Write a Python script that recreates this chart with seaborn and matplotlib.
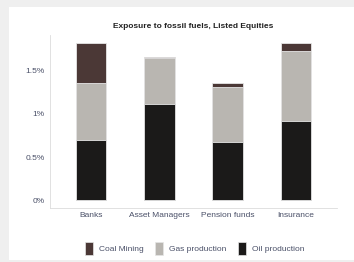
import numpy as np
import pandas as pd
import matplotlib
matplotlib.use("Agg")
import matplotlib.pyplot as plt
import matplotlib.patches as mpatches
import seaborn as sns
from matplotlib.ticker import FuncFormatter

## Dados (em %)
categories = ["Banks", "Asset Managers", "Pension funds", "Insurance"]
oil = [0.70, 1.11, 0.67, 0.92]
gas = [0.66, 0.53, 0.64, 0.80]
coal = [0.46, 0.02, 0.05, 0.10]
series_names = ["Coal Mining", "Gas production", "Oil production"]
colors = {"Coal Mining": "#4b3836", "Gas production": "#b9b6b1", "Oil production": "#1b1a19"}

sns.set_style("white")
plt.rcParams['font.family'] = ['Liberation Sans', 'DejaVu Sans']

fig = plt.figure(figsize=(3.54, 2.62), dpi=100)
fig.patch.set_facecolor("#efefef")
fig.patches.append(mpatches.Rectangle((9/354, 2/262), 1, 1 - 9/262, transform=fig.transFigure,
                                      facecolor="white", edgecolor="none", zorder=-10))
ax = fig.add_axes([50/354, 54/262, 287/354, 173/262])
ax.set_facecolor("none")
ax.set_zorder(1)

df = pd.DataFrame({"cat": categories, "oil": oil, "gas": gas, "coal": coal})
df["og"] = df["oil"] + df["gas"]
df["total"] = df["og"] + df["coal"]

# barras empilhadas: desenha o total e vai sobrepondo
for col, name in [("total", "Coal Mining"), ("og", "Gas production"), ("oil", "Oil production")]:
    sns.barplot(data=df, x="cat", y=col, color=colors[name], width=0.45, ax=ax,
                edgecolor="#e6e6e6", linewidth=0.6, saturation=1)

ax.set_xlim(-0.6, 3.6)
ax.set_ylim(-0.089, 1.909)
ax.set_yticks([0, 0.5, 1, 1.5])
ax.yaxis.set_major_formatter(FuncFormatter(lambda v, p: f"{v:g}%"))
ax.set_xlabel("")
ax.set_ylabel("")
for s in ["top", "right"]:
    ax.spines[s].set_visible(False)
for s in ["left", "bottom"]:
    ax.spines[s].set_color("#dcdcdc")
    ax.spines[s].set_linewidth(0.6)
ax.tick_params(axis="y", length=2, width=0.5, color="#cccccc", labelsize=6, labelcolor="#4a5068", pad=2)
ax.tick_params(axis="x", length=0, labelsize=6, labelcolor="#4a5068", pad=3)

fig.text(0.546, 0.90, "Exposure to fossil fuels, Listed Equities", ha="center", va="center",
         fontsize=6, fontweight="bold", color="#222222")

handles = [mpatches.Patch(facecolor=colors[n], edgecolor="#e6e6e6", linewidth=0.5, label=n) for n in series_names]
leg = fig.legend(handles=handles, loc="center", bbox_to_anchor=(0.55, 0.053), ncol=3, frameon=False,
                 fontsize=6, handlelength=0.95, handleheight=2.0, handletextpad=0.8, columnspacing=1.3)
for t in leg.get_texts():
    t.set_color("#4a5068")

fig.savefig("out.png", dpi=100, facecolor=fig.get_facecolor())
